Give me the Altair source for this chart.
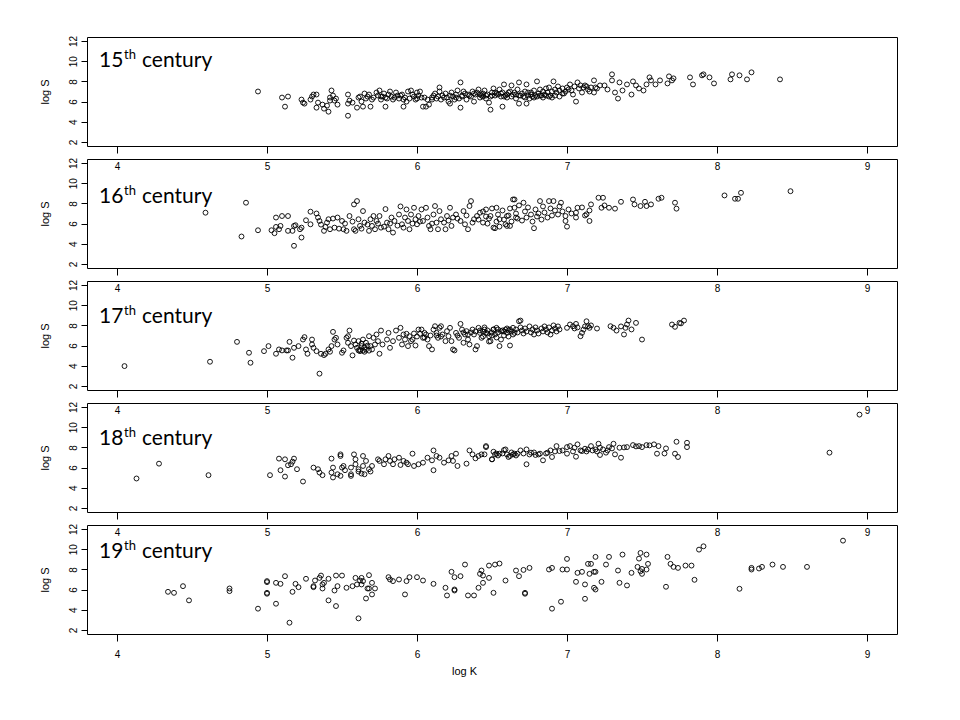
import altair as alt
import pandas as pd

x_ticks = [4, 5, 6, 7, 8, 9]
y_ticks = [2, 4, 6, 8, 10, 12]
century_nums = ["15", "16", "17", "18", "19"]
label_baselines = [30, 44, 42, 42, 33]

c15 = [(4.94,7.0),(5.10,6.4),(5.14,6.5),(5.12,5.5),(5.23,6.2),(5.24,5.9),(5.25,5.8),(5.29,6.2),(5.30,6.5),(5.31,6.7),
(5.33,6.7),(5.33,5.4),(5.34,5.9),(5.37,5.7),(5.38,5.3),(5.41,5.0),(5.42,6.1),(5.42,6.4),(5.43,7.1),(5.44,6.6),
(5.45,6.1),(5.46,6.3),(5.47,5.7),(5.40,5.6),(5.54,6.7),(5.54,5.8),(5.54,4.6),(5.55,6.1),(5.57,5.9),(5.60,5.4),
(5.61,6.4),(5.62,6.5),(5.63,6.0),(5.64,5.5),(5.65,6.8),(5.66,6.3),(5.67,6.5),(5.68,6.7),(5.69,5.5),(5.70,6.2),
(5.71,6.4),(5.73,6.9),(5.74,6.6),(5.75,7.1),(5.76,6.2),(5.77,6.5),(5.78,6.8),(5.79,5.5),(5.80,6.3),(5.82,7.0),
(5.83,6.5),(5.84,6.2),(5.85,6.4),(5.86,6.9),(5.87,6.6),(5.88,6.3),(5.90,6.7),(5.91,6.2),(5.92,6.4),(5.91,5.5),
(5.93,6.0),(5.94,7.0),(5.95,6.3),(5.96,7.1),(5.97,6.7),(5.98,6.5),(5.99,6.2),(6.00,6.9),(6.01,6.6),(6.02,7.0),
(6.03,6.4),(6.04,5.5),(6.06,5.5),(6.07,6.2),(6.08,5.7),(6.10,6.4),(6.11,6.6),(6.12,6.8),(6.13,6.3),(6.14,6.5),
(6.15,7.0),(6.16,6.2),(6.17,6.6),(6.15,7.4),(6.19,6.8),(6.20,6.4),(6.21,6.0),(6.22,5.8),(6.23,6.9),(6.24,6.5),
(6.25,6.2),(6.26,6.7),(6.27,7.1),(6.28,6.3),(6.29,5.4),(6.30,6.6),(6.31,7.0),(6.32,6.8),(6.33,6.2),(6.29,7.9),
(6.36,6.5),(6.37,7.0),(6.38,6.0),(6.39,6.7),(6.40,6.9),(6.41,7.2),(6.42,6.4),(6.43,6.6),(6.44,6.8),(6.45,7.1),
(6.46,6.3),(6.47,6.7),(6.48,5.9),(6.49,6.5),(6.50,6.9),(6.51,7.3),(6.52,6.6),(6.53,6.8),(6.49,5.2),(6.55,7.2),
(6.56,6.5),(6.57,6.9),(6.57,5.5),(6.58,7.7),(6.59,6.6),(6.60,6.4),(6.62,7.0),(6.63,7.6),(6.64,6.7),(6.65,6.9),
(6.66,6.3),(6.67,7.2),(6.68,6.6),(6.68,7.9),(6.68,5.8),(6.70,6.8),(6.71,6.5),(6.72,7.0),(6.73,5.8),(6.73,7.7),
(6.74,6.6),(6.75,6.3),(6.76,6.9),(6.77,6.5),(6.78,7.1),(6.79,6.6),(6.80,8.0),(6.81,6.8),(6.82,7.2),(6.83,6.6),
(6.84,7.0),(6.85,6.7),(6.86,7.3),(6.87,6.9),(6.88,7.4),(6.89,6.6),(6.90,7.0),(6.91,8.0),(6.92,7.2),(6.93,6.9),
(6.94,7.5),(6.95,7.1),(6.97,7.3),(6.98,6.8),(7.00,7.4),(7.02,7.7),(7.03,7.1),(7.04,6.7),(7.06,6.0),(7.07,7.9),
(7.08,7.3),(7.10,6.9),(7.12,7.6),(7.14,7.2),(7.16,7.4),(7.18,6.9),(7.18,8.1),(7.20,7.3),(7.22,7.6),(7.25,7.6),
(7.27,7.2),(7.30,8.7),(7.30,8.1),(7.32,6.9),(7.34,6.3),(7.35,7.9),(7.37,7.1),(7.40,7.7),(7.43,6.7),(7.44,8.0),
(7.46,7.6),(7.48,7.3),(7.51,7.1),(7.53,7.7),(7.55,8.4),(7.56,8.1),(7.59,7.7),(7.62,8.1),(7.67,7.8),(7.68,8.5),
(7.70,8.1),(7.71,8.3),(7.82,8.4),(7.84,7.7),(7.90,8.6),(7.91,8.7),(7.95,8.4),(7.98,7.8),(8.09,8.2),(8.10,8.7),
(8.15,8.6),(8.20,8.2),(8.23,8.9),(8.42,8.2),
(6.34,6.7),(6.35,6.6),(6.38,6.8),(6.42,6.7),(6.44,6.5),(6.46,6.6),(6.50,6.6),(6.52,6.9),(6.54,6.7),(6.56,6.8),
(6.58,6.5),(6.60,6.7),(6.61,6.9),(6.63,6.5),(6.66,6.7),(6.69,6.6),(6.72,6.4),(6.74,6.9),(6.76,6.7),(6.78,6.4),
(6.80,6.5),(6.82,6.6),(6.84,6.4),(6.86,6.6),(6.88,6.5),(6.90,6.4),(6.92,6.6),(6.95,6.5),(6.97,6.8),(6.99,7.0),
(7.01,7.2),(7.05,7.5),(7.09,7.6),(7.11,7.4),(7.13,7.5),(7.15,7.0),(7.19,7.4),(6.30,6.5),(6.26,6.4),(6.22,6.6),
(6.18,6.4),(6.10,6.2),(6.05,6.4),(6.00,6.3),(5.89,6.6),(5.81,6.7),(5.79,6.4),(5.76,6.5)]

c16 = [(4.59,7.08),(4.83,4.72),(4.86,8.07),(4.94,5.34),(5.03,5.34),(5.05,5.05),(5.06,5.67),(5.08,5.44),(5.09,5.77),
(5.06,6.6),(5.10,6.75),(5.14,6.75),(5.14,5.28),(5.17,5.28),(5.18,3.80),(5.18,5.77),(5.19,5.84),(5.22,5.44),
(5.23,4.62),(5.23,5.6),(5.26,6.33),(5.29,7.18),(5.29,5.93),(5.33,7.0),(5.34,6.6),(5.35,6.26),(5.38,5.28),
(5.39,5.67),(5.40,6.1),(5.41,6.43),(5.42,5.44),(5.44,6.5),(5.45,5.6),(5.47,6.6),(5.50,6.26),(5.51,5.44),
(5.53,5.28),(5.55,6.75),(5.58,5.44),(5.58,7.9),(5.60,8.23),(5.59,5.28),(5.61,6.43),(5.62,5.77),(5.64,7.24),
(5.65,6.1),(5.68,5.28),(5.69,6.43),(5.70,5.77),(5.71,6.75),(5.72,5.44),(5.73,6.26),(5.75,6.75),(5.76,5.6),
(5.79,7.44),(5.80,6.1),(5.81,5.44),(5.83,6.6),(5.84,5.11),(5.85,6.26),(5.88,6.9),(5.89,7.7),(5.90,5.93),
(5.91,5.6),(5.92,6.6),(5.93,7.4),(5.94,6.26),(5.95,5.44),(5.96,6.9),(5.98,7.57),(5.99,6.43),(6.00,5.93),
(6.01,6.75),(6.03,7.4),(6.04,6.26),(6.06,7.57),(6.07,6.6),(6.08,5.77),(6.09,5.44),(6.11,6.9),(6.12,7.74),
(6.13,6.1),(6.14,5.44),(6.15,7.24),(6.16,6.43),(6.19,5.44),(6.20,6.75),(6.22,7.57),(6.23,5.77),(6.24,6.6),
(6.26,6.9),(6.29,6.26),(6.31,7.24),(6.32,5.93),(6.34,5.44),(6.35,7.74),(6.36,8.23),(6.38,6.43),(6.40,6.75),
(6.42,7.08),(6.44,6.1),(6.46,7.4),(6.49,6.75),(6.51,5.6),(6.53,7.57),(6.55,6.43),(6.59,5.93),(6.60,6.75),
(6.62,5.77),(6.64,8.39),(6.65,7.57),(6.66,6.6),
(6.52,5.54),(6.55,5.7),(6.60,5.77),(6.65,8.39),(6.71,8.07),(6.78,5.54),(6.82,8.23),(6.88,8.23),(6.91,8.23),
(6.96,8.07),(7.00,5.7),(6.99,6.26),(6.99,6.75),(7.06,6.6),(7.06,7.08),(7.07,7.57),(7.13,6.92),(7.15,6.26),
(7.16,7.9),(7.21,8.56),(7.24,8.56),(7.23,7.57),(7.25,7.8),(7.28,7.57),(7.32,7.48),(7.36,8.16),(7.44,8.39),
(7.45,7.9),(7.49,7.74),(7.52,8.16),(7.53,7.74),(7.56,7.9),(7.61,8.46),(7.63,8.56),(7.72,8.07),(7.73,7.48),
(8.05,8.79),(8.12,8.46),(8.14,8.46),(8.16,9.05),(8.49,9.21),
(6.44,7.2),(6.46,6.7),(6.48,6.5),(6.50,7.5),(6.53,6.2),(6.54,6.9),(6.57,7.3),(6.58,6.4),(6.61,6.8),(6.62,7.5),
(6.63,6.2),(6.66,7.0),(6.67,6.5),(6.68,7.8),(6.70,6.3),(6.72,7.2),(6.73,6.6),(6.74,7.6),(6.76,6.9),(6.77,6.2),
(6.79,7.4),(6.80,6.7),(6.81,7.0),(6.83,6.4),(6.84,7.7),(6.85,7.1),(6.87,6.6),(6.89,7.5),(6.90,6.8),(6.92,7.3),
(6.94,6.9),(6.95,7.7),(6.97,7.2),(7.01,7.4),(7.03,7.0),(7.10,7.6),(7.12,6.8),(7.15,7.3),
(5.36,5.9),(5.48,5.5),(5.52,6.0),(5.57,6.2),(5.63,5.5),(5.67,5.9),(5.74,6.0),(5.78,5.7),(5.82,6.0),(5.87,5.8),
(5.97,6.0),(6.02,6.2),(6.10,6.0),(6.18,6.1),(6.21,6.3),(6.27,6.5),(6.33,6.8),(6.37,6.1),(6.41,6.4),(6.47,6.0)]

c17 = [(4.05,3.97),(4.62,4.40),(4.80,6.37),(4.88,5.29),(4.89,4.30),(4.98,5.45),(5.01,5.95),(5.06,5.19),(5.08,5.62),
(5.10,5.52),(5.13,5.52),(5.14,5.52),(5.15,6.37),(5.17,4.8),(5.18,5.78),(5.21,5.95),(5.24,6.6),(5.25,6.84),
(5.26,5.62),(5.27,5.19),(5.30,6.11),(5.30,6.6),(5.31,5.78),(5.33,5.45),(5.35,3.22),(5.36,5.19),(5.38,5.06),
(5.39,5.19),(5.41,5.62),(5.42,5.39),(5.43,5.95),(5.44,7.36),(5.45,6.6),(5.46,6.77),(5.47,6.11),(5.50,5.29),
(5.51,5.52),(5.53,6.77),(5.54,6.28),(5.54,6.93),(5.55,7.49),(5.56,5.95),(5.57,5.03),(5.58,6.5),(5.59,6.11),
(5.60,5.78),(5.61,6.44),(5.61,5.52),(5.62,5.45),(5.63,5.95),(5.64,6.6),(5.65,5.39),(5.66,6.28),(5.68,6.93),
(5.69,5.95),(5.70,5.62),(5.71,6.77),(5.72,6.11),(5.73,7.1),(5.74,6.44),(5.75,5.19),(5.76,7.49),(5.77,6.11),
(5.80,6.6),(5.81,7.26),(5.82,5.78),(5.84,6.44),(5.86,7.49),(5.88,6.77),(5.89,7.76),(5.90,6.11),(5.91,7.1),
(5.92,6.6),(5.93,7.17),(5.94,5.95),(5.95,6.93),(5.96,6.44),(5.99,6.01),(6.01,7.59),(6.02,7.17),(6.03,7.59),
(6.04,6.77),(6.05,7.26),(6.06,7.1),(6.07,6.6),(6.08,5.95),(6.10,5.62),(6.11,7.59),(6.12,7.92),(6.13,7.26),
(6.14,6.77),(6.15,7.76),(6.16,7.92),(6.17,7.1),(6.19,6.44),(6.20,7.43),(6.21,6.93),(6.22,7.76),(6.23,6.44),
(6.24,5.62),(6.25,5.52),(6.26,7.26),(6.28,6.77),(6.29,8.15),(6.30,7.59),(6.31,6.28),(6.32,7.1),(6.33,7.43),
(6.34,6.6),(6.35,6.11),(6.37,7.59),(6.38,7.1),(6.39,5.62),(6.40,5.95),(6.41,7.76),(6.42,7.26),(6.43,6.77),
(6.45,7.59),(6.46,7.26),(6.48,6.93),(6.49,6.44),(6.51,7.59),(6.52,7.1),(6.53,7.76),(6.55,5.95),(6.56,7.43),
(6.59,7.59),(6.60,7.26),(6.62,7.59),(6.64,7.76),(6.65,7.26),(6.68,8.41),
(6.62,6.01),(6.69,8.48),(7.00,7.76),(7.02,8.09),(7.04,7.92),(7.06,8.15),(7.09,6.93),(7.10,7.26),(7.11,7.59),
(7.13,8.41),(7.14,7.92),(7.15,7.76),(7.20,7.69),(7.29,7.92),(7.31,7.76),(7.33,7.49),(7.38,7.1),(7.39,7.76),
(7.40,8.09),(7.41,8.48),(7.46,8.25),(7.50,6.6),(7.70,8.09),(7.72,7.86),(7.75,8.25),(7.78,8.48),
(6.42,7.5),(6.44,6.9),(6.45,7.8),(6.47,7.2),(6.48,6.4),(6.50,7.0),(6.51,7.6),(6.53,6.8),(6.54,7.3),(6.56,6.6),
(6.57,7.5),(6.58,7.0),(6.60,7.7),(6.61,6.9),(6.63,7.4),(6.64,7.1),(6.66,7.6),(6.67,7.3),(6.69,7.8),(6.70,7.5),
(6.71,7.2),(6.72,7.7),(6.73,7.4),(6.75,7.9),(6.76,7.3),(6.77,7.6),(6.78,7.1),(6.79,7.8),(6.80,7.5),(6.81,7.2),
(6.83,7.7),(6.84,7.4),(6.85,7.9),(6.86,7.6),(6.87,7.3),(6.88,7.8),(6.89,7.1),(6.90,7.5),(6.91,8.0),(6.92,7.7),
(6.93,7.4),(6.94,7.9),(6.95,7.6),
(5.62,5.6),(5.64,5.5),(5.66,5.6),(5.68,5.5),(5.65,5.8),(5.67,6.0),(5.63,6.2),(6.36,7.3),(6.39,7.4),(6.44,7.4),
(6.47,7.5),(6.50,7.3),(6.54,7.6),(6.58,7.4),(6.61,7.5),(6.16,6.9),(6.09,7.0),(6.00,6.9),(5.97,6.6),(5.98,7.2),
(6.27,7.0),(6.31,7.3),(6.34,7.1),(6.05,6.8),(6.13,7.0),(7.07,7.8),(7.12,7.9),(7.05,7.7),(7.16,8.0),(7.43,7.6),
(7.36,7.9),(7.76,8.2)]

c18 = [(4.13,4.92),(4.28,6.39),(4.61,5.25),(5.02,5.25),(5.08,6.89),(5.09,5.74),(5.12,6.82),(5.12,5.11),(5.14,6.23),
(5.16,6.33),(5.17,6.59),(5.18,6.89),(5.20,5.84),(5.24,4.62),(5.31,6.0),(5.34,5.84),(5.35,5.51),(5.37,5.25),
(5.43,6.89),(5.44,6.0),(5.43,5.51),(5.44,5.02),(5.47,5.34),(5.49,7.31),(5.49,7.15),(5.49,5.18),(5.50,6.0),
(5.51,6.16),(5.52,5.74),(5.56,5.18),(5.56,5.34),(5.56,6.0),(5.58,7.31),(5.59,6.33),(5.59,6.82),(5.61,5.84),
(5.61,5.61),(5.63,5.41),(5.64,7.15),(5.64,6.16),(5.65,5.34),(5.66,6.66),(5.68,5.84),(5.69,5.61),(5.70,6.16),
(5.74,6.82),(5.75,6.66),(5.78,6.33),(5.79,6.82),(5.81,7.15),(5.82,6.66),(5.84,6.33),(5.85,6.82),(5.88,6.98),
(5.89,6.26),(5.91,6.66),(5.93,6.49),(5.94,6.33),(5.97,7.38),(5.98,6.16),(6.01,6.33),(6.04,6.49),(6.07,6.98),
(6.10,6.72),(6.11,5.74),(6.11,7.70),(6.13,7.15),(6.15,6.98),(6.18,6.49),(6.21,6.72),(6.23,7.15),(6.24,6.66),
(6.26,7.38),(6.27,6.16),(6.33,6.39),(6.35,7.7),(6.37,7.31),(6.39,6.92),(6.41,7.15),(6.43,7.31),(6.46,8.03),
(6.50,6.82),(6.51,7.57),(6.52,7.31),(6.55,7.38),(6.58,7.74),(6.61,7.05),(6.64,7.31),(6.67,7.38),
(6.46,8.13),(6.45,7.31),(6.50,6.82),(6.53,7.38),(6.59,7.80),(6.62,7.15),(6.65,7.38),(6.69,7.70),(6.73,7.80),
(6.73,6.33),(6.76,7.48),(6.79,7.25),(6.82,7.38),(6.84,6.72),(6.87,7.48),(6.89,7.70),(6.90,7.05),(6.93,8.13),
(6.95,7.64),(7.00,7.38),(7.00,8.03),(7.02,8.13),(7.05,7.97),(7.06,7.08),(7.07,8.30),(7.10,7.64),(7.12,7.87),
(7.14,7.80),(7.16,8.13),(7.19,7.80),(7.21,8.36),(7.22,7.25),(7.22,7.97),(7.26,7.48),(7.28,8.03),(7.31,8.36),
(7.32,7.31),(7.35,7.97),(7.36,6.98),(7.40,8.03),(7.44,8.23),(7.48,8.13),(7.50,8.03),(7.53,8.23),(7.58,8.30),
(7.61,8.13),(7.60,7.38),(7.66,7.90),(7.72,7.38),(7.73,8.56),(7.74,7.05),(7.80,8.46),(7.80,8.03),(8.75,7.48),
(8.95,11.25),
(6.54,7.2),(6.57,7.4),(6.60,7.3),(6.63,7.5),(6.66,7.2),(6.71,7.4),(6.75,7.3),(6.78,7.5),(6.81,7.3),(6.86,7.4),
(6.92,7.6),(6.97,7.7),(7.04,7.6),(7.09,7.7),(7.13,7.6),(7.17,7.7),(7.20,7.6),(7.24,7.8),(7.27,7.7),(7.30,7.9),
(7.38,8.0),(7.46,8.1),(7.55,8.2),(7.65,7.4)]

c19 = [(4.34,5.78),(4.38,5.68),(4.44,6.34),(4.48,4.93),(4.75,6.11),(4.75,5.85),(4.94,4.11),(5.00,6.84),(5.00,6.74),
(5.00,5.68),(5.00,5.59),(5.06,4.60),(5.06,6.67),(5.09,6.57),(5.12,7.33),(5.15,2.72),(5.17,5.78),(5.19,6.57),
(5.21,6.24),(5.26,7.07),(5.31,6.24),(5.31,6.34),(5.32,6.90),(5.35,7.16),(5.36,7.39),(5.37,6.51),(5.37,6.11),
(5.38,6.67),(5.41,4.93),(5.41,7.07),(5.45,5.91),(5.46,4.37),(5.46,7.39),(5.47,6.34),(5.50,7.39),(5.53,6.18),
(5.57,6.34),(5.59,7.16),(5.60,6.51),(5.61,3.15),(5.62,6.90),(5.63,6.51),(5.63,7.16),(5.64,6.84),(5.66,5.12),
(5.67,6.11),(5.68,7.43),(5.68,6.11),(5.70,6.67),(5.70,5.52),(5.72,6.11),(5.81,7.23),(5.82,7.0),(5.84,6.84),
(5.88,7.0),(5.92,5.52),(5.93,6.84),(5.95,7.23),(6.00,7.23),(6.04,6.90),(6.11,6.57),(6.19,6.18),(6.20,5.42),
(6.23,7.76),(6.25,7.23),(6.25,5.91),(6.25,6.01),(6.29,7.33),(6.32,8.48),(6.34,5.42),(6.38,5.42),(6.41,6.18),
(6.42,7.56),(6.43,7.89),(6.44,6.67),(6.44,7.39),(6.48,7.16),(6.48,8.38),(6.51,5.68),(6.52,8.48),(6.55,8.58),
(6.59,6.90),(6.66,7.89),(6.68,7.33),(6.71,7.95),(6.72,5.68),(6.72,5.59),(6.75,8.15),(6.88,7.99),(6.90,8.15),
(6.90,4.11),(6.96,4.80),(6.97,7.99),(7.00,7.99),(7.00,9.04),(7.06,6.77),(7.07,7.66),(7.10,7.76),(7.12,5.09),
(7.12,6.51),(7.14,8.55),(7.16,8.55),(7.15,7.56),(7.18,6.18),(7.18,7.76),(7.19,7.76),(7.19,6.01),(7.19,9.24),
(7.23,6.77),(7.26,8.48),(7.28,9.24),(7.34,7.89),(7.35,6.67),(7.37,9.47),(7.40,6.41),(7.43,7.66),(7.47,8.25),
(7.48,9.07),(7.49,9.63),(7.49,7.82),(7.50,8.05),(7.50,7.56),(7.53,7.99),(7.53,9.47),(7.54,8.55),(7.66,6.28),
(7.67,9.24),(7.69,8.55),(7.71,8.25),(7.74,8.15),(7.79,8.38),(7.83,8.38),(7.85,6.97),(7.88,9.96),(7.91,10.29),
(8.15,6.08),(8.23,8.15),(8.23,7.99),(8.28,8.09),(8.30,8.25),(8.37,8.48),(8.44,8.25),(8.60,8.25),(8.84,10.85)]

century_points = [c15, c16, c17, c18, c19]

LABEL_FONT = "Liberation Sans"
TITLE_FONT = "Lato"
PW, PH = 810, 109

panels = []
for i, (num, pts, base) in enumerate(zip(century_nums, century_points, label_baselines)):
    last = i == len(century_nums) - 1
    df = pd.DataFrame(pts, columns=["K", "S"])
    if last:
        x_axis = alt.Axis(values=x_ticks, tickSize=7, labelPadding=8, grid=False, domain=False,
                          titlePadding=6, titleX=377, titleAlign="center")
    else:
        x_axis = alt.Axis(values=x_ticks, tickSize=7, labelPadding=8, grid=False, domain=False)
    pts_layer = alt.Chart(df).mark_point(
        shape="circle", filled=False, size=24, stroke="black", strokeWidth=0.9, opacity=1
    ).encode(
        x=alt.X("K:Q", scale=alt.Scale(domain=[3.8, 9.2], nice=False, zero=False),
                title="log K" if last else "", axis=x_axis),
        y=alt.Y("S:Q", scale=alt.Scale(domain=[1.6, 12.4], nice=False, zero=False),
                title="log S",
                axis=alt.Axis(values=y_ticks, tickSize=6, labelPadding=3, labelAngle=270,
                              grid=False, domain=False, titlePadding=18)),
    )
    one = alt.Chart(pd.DataFrame({"a": [0]}))
    t_num = one.mark_text(text=num, font=TITLE_FONT, fontSize=21, align="left",
                          baseline="alphabetic", color="black").encode(
        x=alt.value(12), y=alt.value(base))
    t_sup = one.mark_text(text="th", font=TITLE_FONT, fontSize=13, align="left",
                          baseline="alphabetic", color="black").encode(
        x=alt.value(37), y=alt.value(base - 8))
    t_cen = one.mark_text(text="century", font=TITLE_FONT, fontSize=21, align="left",
                          baseline="alphabetic", color="black").encode(
        x=alt.value(55), y=alt.value(base))
    panels.append(alt.layer(pts_layer, t_num, t_sup, t_cen).properties(width=PW, height=PH))

chart = alt.vconcat(*panels, spacing=13, bounds="flush").properties(
    padding={"left": 30, "top": 26, "right": 5, "bottom": 5}
).configure_view(
    stroke="black", strokeWidth=1
).configure_axis(
    labelFont=LABEL_FONT, labelFontSize=10, labelColor="black",
    tickColor="black", tickWidth=1,
    titleFont=LABEL_FONT, titleFontSize=11, titleFontWeight="normal", titleColor="black"
)

chart.save("out.html", embed_options={"renderer": "svg", "actions": False})
